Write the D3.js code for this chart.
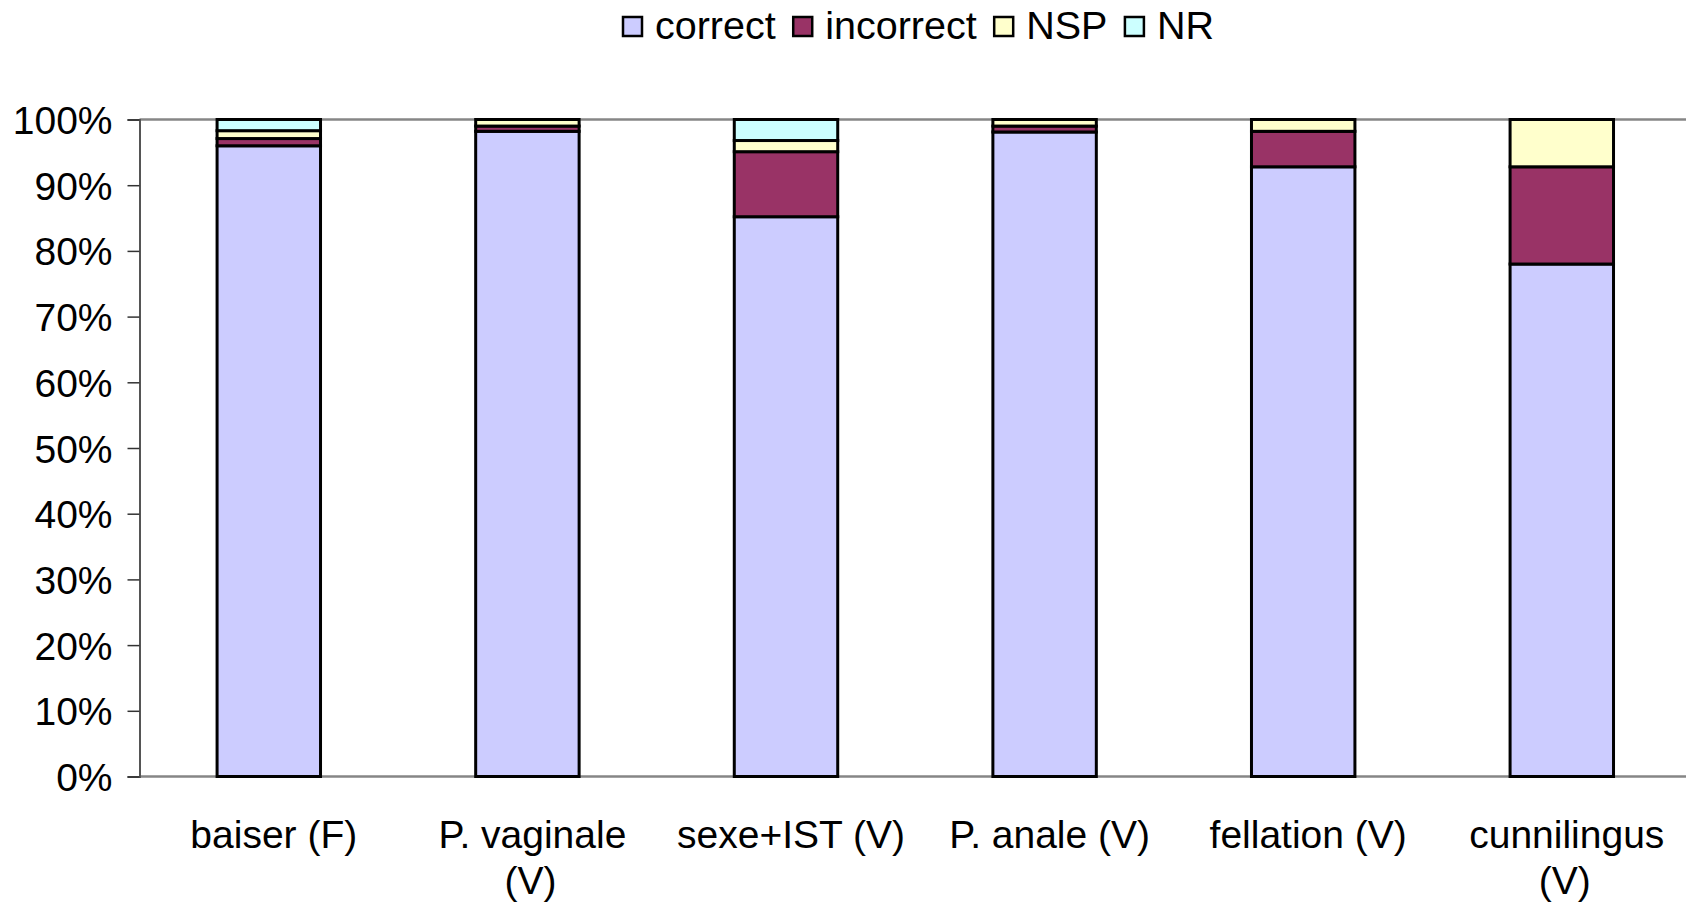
<!DOCTYPE html>
<html lang="en">
<head>
    <meta charset="UTF-8">
    <title>Réponses par pratique</title>
    <script src="https://d3js.org/d3.v7.min.js"></script>
    <style>
        body {
            margin: 0;
            background-color: #ffffff;
            font-family: 'Liberation Sans', Arial, sans-serif;
        }
        svg text {
            fill: #000;
        }
    </style>
</head>
<body>
    <div id="chart"></div>
    <script>
        // data (percent)
        const categories = ["baiser (F)", "P. vaginale (V)", "sexe+IST (V)", "P. anale (V)", "fellation (V)", "cunnilingus (V)"];
        const correct   = [96.0, 98.2, 85.2, 98.1, 92.8, 78.0];
        const incorrect = [1.1, 0.8, 9.9, 0.9, 5.4, 14.8];
        const nsp       = [1.2, 1.0, 1.7, 1.0, 1.8, 7.2];
        const nr        = [1.7, 0.0, 3.2, 0.0, 0.0, 0.0];
        const seriesNames = ["correct", "incorrect", "NSP", "NR"];
        const yTicks = [0, 10, 20, 30, 40, 50, 60, 70, 80, 90, 100];

        const colors = ["#CCCCFF", "#993366", "#FFFFCC", "#CCFFFF"];

        const W = 1686, H = 909;
        const plotLeft = 139.5, plotTop = 119.5, plotBottom = 776.5;
        const plotRight = plotLeft + 6 * 258.6; // plot runs past the right edge
        const fontSize = 39;

        const rows = categories.map((c, i) => ({
            cat: c, correct: correct[i], incorrect: incorrect[i], NSP: nsp[i], NR: nr[i]
        }));

        const svg = d3.select("#chart").append("svg")
            .attr("width", W)
            .attr("height", H)
            .style("font-family", "'Liberation Sans', Arial, sans-serif");

        const x = d3.scaleBand().domain(categories).range([plotLeft, plotRight]).paddingInner(0.6).paddingOuter(0.3);
        const y = d3.scaleLinear().domain([0, 100]).range([plotBottom, plotTop]);

        // top line (100%) and x axis line
        svg.append("line")
            .attr("x1", plotLeft).attr("x2", W)
            .attr("y1", y(100)).attr("y2", y(100))
            .attr("stroke", "#868686").attr("stroke-width", 2.5);
        svg.append("line")
            .attr("x1", plotLeft).attr("x2", W)
            .attr("y1", y(0)).attr("y2", y(0))
            .attr("stroke", "#868686").attr("stroke-width", 2.5);

        // y axis
        const yAxis = svg.append("g")
            .attr("transform", `translate(${plotLeft},0)`)
            .call(d3.axisLeft(y).tickValues(yTicks).tickFormat(d => d + "%").tickSize(12).tickPadding(15));
        yAxis.select(".domain").attr("stroke", "#555").attr("stroke-width", 2);
        yAxis.selectAll(".tick line").attr("stroke", "#333").attr("stroke-width", 1.5);
        yAxis.selectAll(".tick text")
            .attr("font-size", fontSize)
            .attr("font-family", "'Liberation Sans', Arial, sans-serif")
            .attr("dy", "0.36em");

        // stacked bars
        const stack = d3.stack().keys(seriesNames)(rows);
        const layers = svg.append("g").selectAll("g")
            .data(stack)
            .join("g")
            .attr("fill", (d, i) => colors[i]);

        layers.selectAll("rect")
            .data(d => d.filter(s => s[1] - s[0] > 0))
            .join("rect")
            .attr("x", d => x(d.data.cat))
            .attr("width", x.bandwidth())
            .attr("y", d => y(d[1]))
            .attr("height", d => y(d[0]) - y(d[1]))
            .attr("stroke", "#000")
            .attr("stroke-width", 3);

        // category labels, wrapped to the band step
        const step = x.step();
        const labels = svg.append("g");
        categories.forEach(c => {
            const cx = x(c) + x.bandwidth() / 2 + 5;
            const t = labels.append("text")
                .attr("x", cx)
                .attr("y", 848)
                .attr("text-anchor", "middle")
                .attr("font-size", fontSize);
            const words = c.split(" ");
            let line = [];
            let tspan = t.append("tspan").attr("x", cx).attr("dy", 0);
            words.forEach(w => {
                line.push(w);
                tspan.text(line.join(" "));
                if (tspan.node().getComputedTextLength() > step - 10 && line.length > 1) {
                    line.pop();
                    tspan.text(line.join(" "));
                    line = [w];
                    tspan = t.append("tspan").attr("x", cx - 2).attr("dy", 46).text(w);
                }
            });
        });

        // legend
        const legend = svg.append("g");
        let lx = 622;
        seriesNames.forEach((s, i) => {
            legend.append("rect")
                .attr("x", lx + 1).attr("y", 17)
                .attr("width", 19).attr("height", 19)
                .attr("fill", colors[i])
                .attr("stroke", "#000").attr("stroke-width", 2.5);
            const t = legend.append("text")
                .attr("x", lx + 33).attr("y", 39)
                .attr("font-size", 39.5)
                .text(s);
            lx += 33 + t.node().getComputedTextLength() + 16.5;
        });
    </script>
</body>
</html>
